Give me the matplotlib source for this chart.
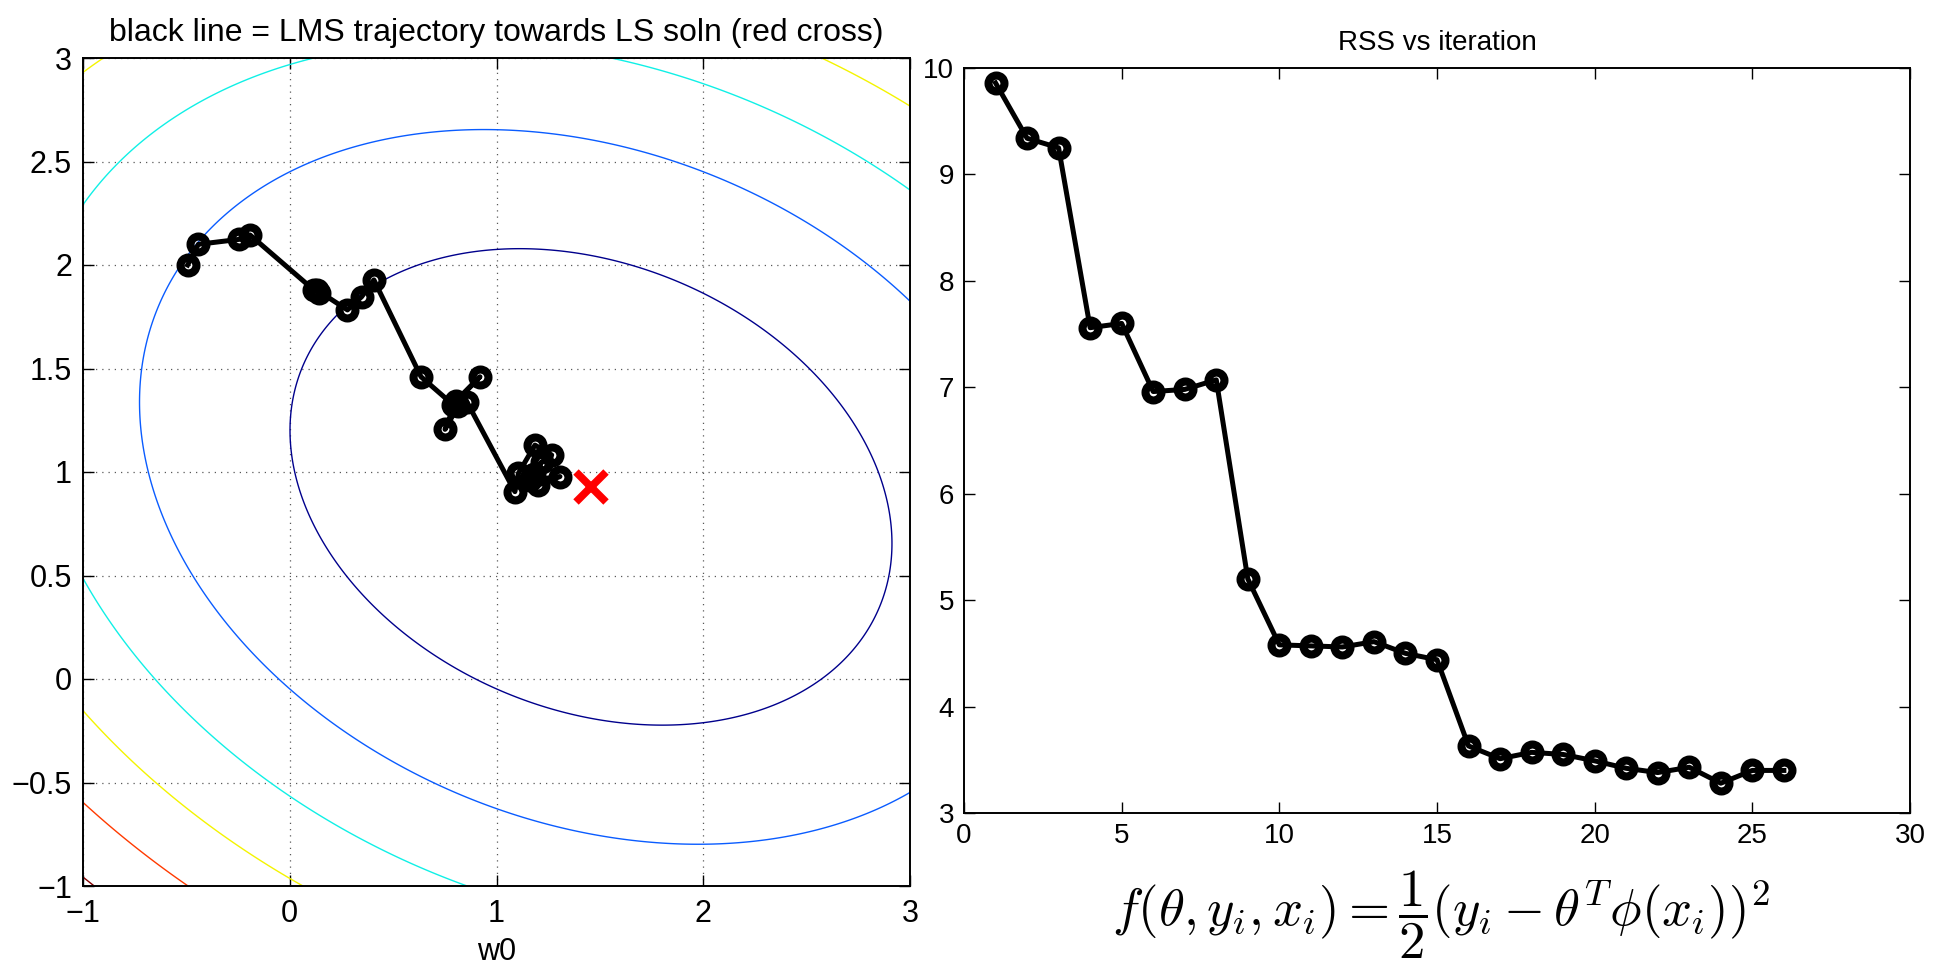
import numpy as np
import matplotlib
matplotlib.use('Agg')
import matplotlib.pyplot as plt

plt.rcParams['font.family'] = ['Liberation Sans', 'DejaVu Sans']
plt.rcParams['mathtext.fontset'] = 'cm'

# LMS trajectory (w0, w1) per iteration
traj_w0 = [-0.494, -0.442, -0.244, -0.192, 0.118, 0.140, 0.130, 0.279, 0.348, 0.407,
           0.635, 0.790, 0.920, 0.805, 0.751, 0.815, 0.856, 1.089, 1.106, 1.186,
           1.267, 1.202, 1.307, 1.160, 1.220, 1.180]
traj_w1 = [2.000, 2.100, 2.124, 2.145, 1.878, 1.865, 1.880, 1.783, 1.847, 1.928,
           1.460, 1.325, 1.460, 1.345, 1.206, 1.320, 1.340, 0.905, 0.994, 1.130,
           1.082, 0.937, 0.978, 0.960, 1.050, 0.990]

# least squares solution (red cross)
ls_w0 = 1.457
ls_w1 = 0.928

# RSS surface: quadratic form around LS solution, and contour levels
quad_a, quad_b, quad_c = 1.0, 0.3, 1.6
levels = [2, 4.5, 7, 9.5, 12, 14.5]
level_colors = ['#00008c', '#0a5cff', '#10f0e6', '#f4f400', '#ff3a00', '#800000']

# RSS vs iteration
iters = list(range(1, 27))
rss = [9.86, 9.34, 9.25, 7.56, 7.60, 6.96, 6.98, 7.07, 5.20, 4.58,
       4.57, 4.56, 4.61, 4.50, 4.44, 3.63, 3.51, 3.57, 3.55, 3.49,
       3.42, 3.38, 3.43, 3.28, 3.40, 3.40]

fig = plt.figure(figsize=(19.38, 9.64), dpi=100)

# ---- kiri: kontur + trajektori
ax1 = fig.add_axes([83 / 1938, 1 - 886 / 964, 827 / 1938, 828 / 964])
g0, g1 = np.meshgrid(np.linspace(-1, 3, 400), np.linspace(-1, 3, 400))
d0 = g0 - ls_w0
d1 = g1 - ls_w1
Z = quad_a * d0 ** 2 + 2 * quad_b * d0 * d1 + quad_c * d1 ** 2
ax1.contour(g0, g1, Z, levels=levels, colors=level_colors, linewidths=1.0)
ax1.plot(traj_w0, traj_w1, '-o', color='black', lw=3.6, ms=11.5, mew=5.8,
         mfc='none', mec='black', zorder=3)
ax1.plot(ls_w0, ls_w1, 'x', color='red', ms=22, mew=5.5, zorder=4)
ax1.set_xlim(-1, 3)
ax1.set_ylim(-1, 3)
ax1.set_xticks([-1, 0, 1, 2, 3])
ax1.set_yticks(np.arange(-1, 3.01, 0.5))
ax1.set_yticklabels(['\u22121', '\u22120.5', '0', '0.5', '1', '1.5', '2', '2.5', '3'])
ax1.set_xticklabels(['\u22121', '0', '1', '2', '3'])
ax1.grid(True, linestyle=(0, (1, 4)), color='0.35', lw=0.9)
ax1.set_title('black line = LMS trajectory towards LS soln (red cross)',
              fontsize=23, pad=12)
ax1.set_xlabel('w0', fontsize=22, labelpad=6)
ax1.tick_params(direction='in', top=True, right=True, length=8, width=1,
                labelsize=22)
ax1.tick_params(axis='x', pad=9)
ax1.tick_params(axis='y', pad=8)

# ---- kanan: RSS
ax2 = fig.add_axes([964 / 1938, 1 - 813 / 964, 946 / 1938, 745 / 964])
ax2.plot(iters, rss, '-o', color='black', lw=3.6, ms=11.5, mew=5.8,
         mfc='none', mec='black')
ax2.set_xlim(0, 30)
ax2.set_ylim(3, 10)
ax2.set_xticks([0, 5, 10, 15, 20, 25, 30])
ax2.set_yticks([3, 4, 5, 6, 7, 8, 9, 10])
ax2.set_title('RSS vs iteration', fontsize=20, pad=13)
ax2.tick_params(direction='in', top=True, right=True, length=8, width=1,
                labelsize=20, pad=7)

for ax in (ax1, ax2):
    for s in ax.spines.values():
        s.set_linewidth(1.4)

fig.text(1441 / 1938, 1 - 926 / 964,
         r'$f(\theta, y_i, x_i) = \dfrac{1}{2}(y_i - \theta^T \phi(x_i))^2$',
         fontsize=38, ha='center', va='baseline')

fig.savefig('out.png', dpi=100)
